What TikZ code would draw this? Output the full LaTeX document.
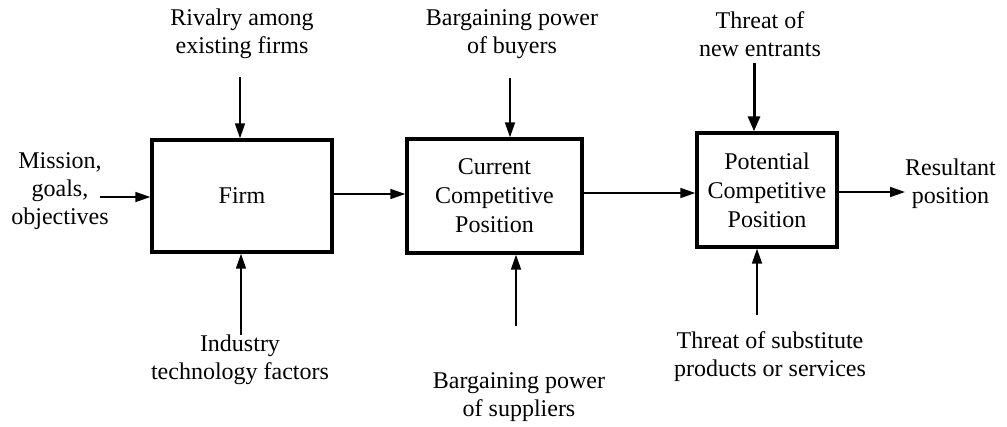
\documentclass[tikz,border=0pt]{standalone}
\usepackage{fontspec}
\setmainfont{Liberation Serif}
\usetikzlibrary{arrows.meta}

\begin{document}
\begin{tikzpicture}[x=1pt,y=-1pt,
  lbl/.style={align=center,inner sep=0pt,font=\fontsize{24}{28}\selectfont},
  stagebox/.style={draw,line width=3.4pt,inner sep=0pt,align=center,
    font=\fontsize{24}{29}\selectfont},
  flow/.style={line width=1.7pt,-{Triangle[length=15pt,width=10pt]}},
  heavyflow/.style={line width=3pt,-{Triangle[length=15pt,width=12pt]}}]
  \useasboundingbox (0,0) rectangle (1007,426);

  % the three stages
  \node[stagebox,minimum width=180pt,minimum height=112pt] (firm) at (242,196) {Firm};
  \node[stagebox,minimum width=175pt,minimum height=114pt] (cur) at (494.5,196)
    {Current\\Competitive\\Position};
  \node[stagebox,minimum width=140pt,minimum height=114pt] (pot) at (767,190)
    {Potential\\Competitive\\Position};

  % forces and inputs
  \node[lbl] (mission) at (60,191) {Mission,\\goals,\\objectives};
  \node[lbl] (rival) at (242,34) {Rivalry among\\existing firms};
  \node[lbl] (buyers) at (512,34) {Bargaining power\\of buyers};
  \node[lbl] (entrants) at (760,34) {Threat of\\new entrants};
  \node[lbl] (industry) at (240,360) {Industry\\technology factors};
  \node[lbl] (suppliers) at (519,397) {Bargaining power\\of suppliers};
  \node[lbl] (subst) at (770,357) {Threat of substitute\\products or services};
  \node[lbl,anchor=west] (result) at (905,184) {Resultant\\position};

  % free ends of the connectors
  \coordinate (m0) at (100,197);
  \coordinate (r0) at (240,77);
  \coordinate (b0) at (510,78);
  \coordinate (e0) at (754,63);
  \coordinate (i0) at (241,335);
  \coordinate (s0) at (516,326);
  \coordinate (t0) at (757,315);

  % main flow
  \draw[flow] (m0) -- (m0 -| firm.west);
  \draw[flow] (firm.east |- 0,194) -- (cur.west |- 0,194);
  \draw[flow] (cur.east |- 0,193) -- (pot.west |- 0,193);
  \draw[flow] (pot.east |- 0,192) -- (result.west |- 0,192);

  % forces acting on each stage
  \draw[flow] (r0) -- (r0 |- firm.north);
  \draw[flow] (i0) -- (i0 |- firm.south);
  \draw[flow] (b0) -- (b0 |- cur.north);
  \draw[flow] (s0) -- (s0 |- cur.south);
  \draw[heavyflow] (e0) -- (e0 |- pot.north);
  \draw[flow] (t0) -- (t0 |- pot.south);
\end{tikzpicture}
\end{document}
